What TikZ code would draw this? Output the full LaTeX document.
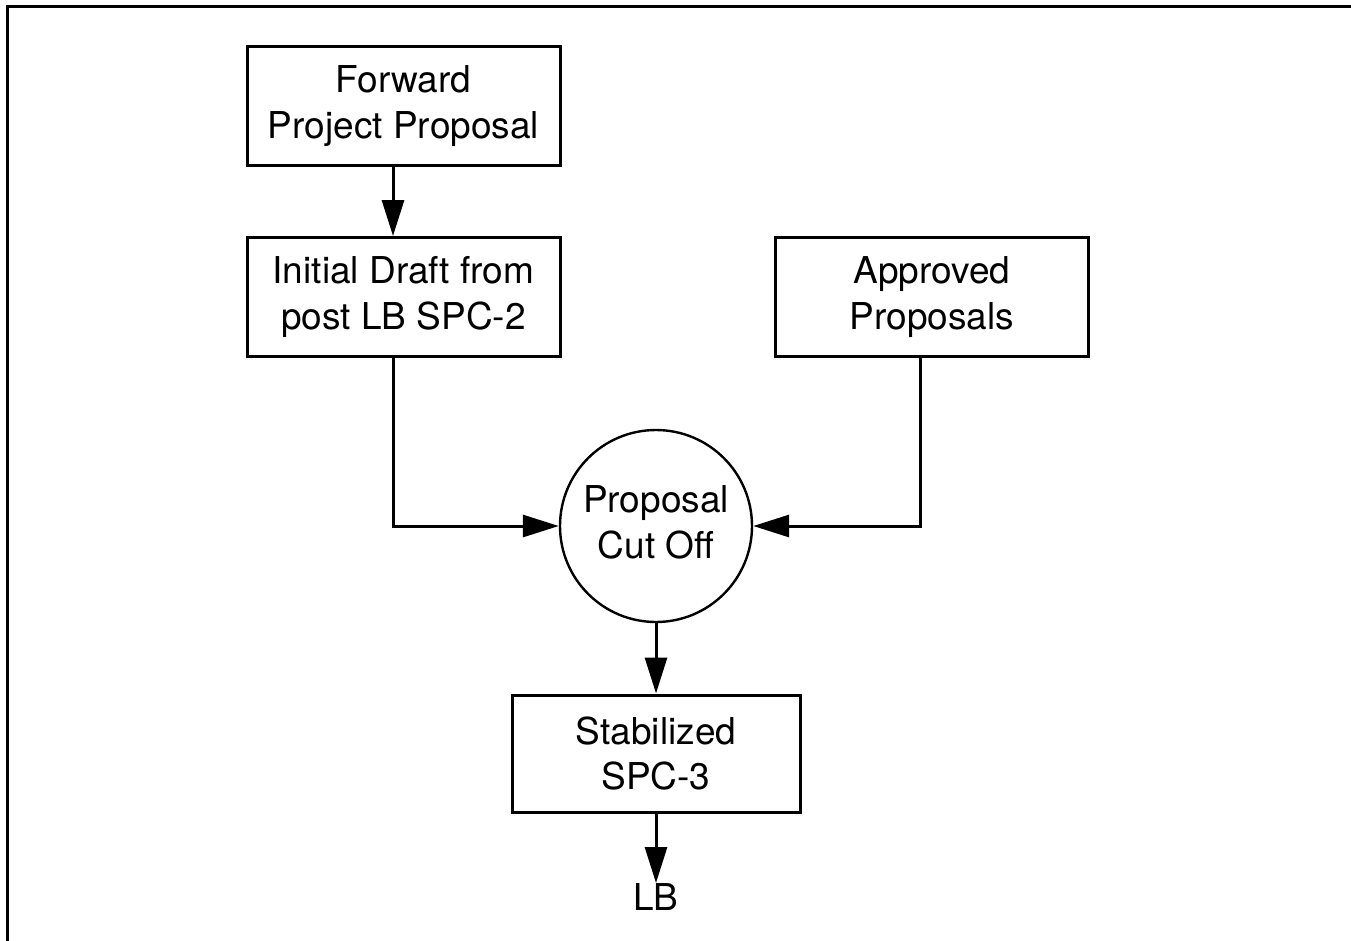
\documentclass[tikz,border=0pt]{standalone}
\usepackage{fontspec}
\setmainfont{TeX Gyre Heros}
\usetikzlibrary{arrows.meta}
\begin{document}
\begin{tikzpicture}[x=1pt,y=-1pt,
  every node/.style={font=\fontsize{37}{46}\selectfont},
  box/.style={draw,line width=3pt,minimum width=313pt,minimum height=119pt,align=center,inner sep=0pt},
  circ/.style={draw,circle,line width=2.4pt,minimum size=192pt,inner sep=0pt},
  conn/.style={line width=3pt,-{Triangle[length=36pt,width=22pt]}}]
\useasboundingbox (0,0) rectangle (1351,940);
\draw[line width=3.2pt] (7.5,945) -- (7.5,6.5) -- (1360,6.5);
\node[box] (fwd) at (403.5,106) {\raisebox{-3pt}{\begin{tabular}{@{}c@{}}Forward\\Project Proposal\end{tabular}}};
\node[box] (init) at (403.5,297) {\raisebox{-2pt}{\begin{tabular}{@{}c@{}}Initial Draft from\\post LB SPC-2\end{tabular}}};
\node[box] (appr) at (932,297) {\raisebox{-2pt}{\begin{tabular}{@{}c@{}}Approved\\Proposals\end{tabular}}};
\node[circ] (cut) at (656,526) {\raisebox{6pt}{\begin{tabular}{@{}c@{}}Proposal\\Cut Off\end{tabular}}};
\node[box,minimum width=288pt,minimum height=117pt,align=center] (stab) at (656,753.5) {Stabilized\\SPC-3};
\node[inner sep=0pt,anchor=north] (lb) at (656,883) {LB};
\draw[conn] (fwd.south -| 393,0) -- (init.north -| 393,0);
\draw[conn] (init.south -| 393,0) |- (cut.west);
\draw[conn] (appr.south -| 920,0) |- (cut.east);
\draw[conn] (cut.south) -- (stab.north);
\draw[conn] (stab.south) -- (lb.north);
\end{tikzpicture}
\end{document}
